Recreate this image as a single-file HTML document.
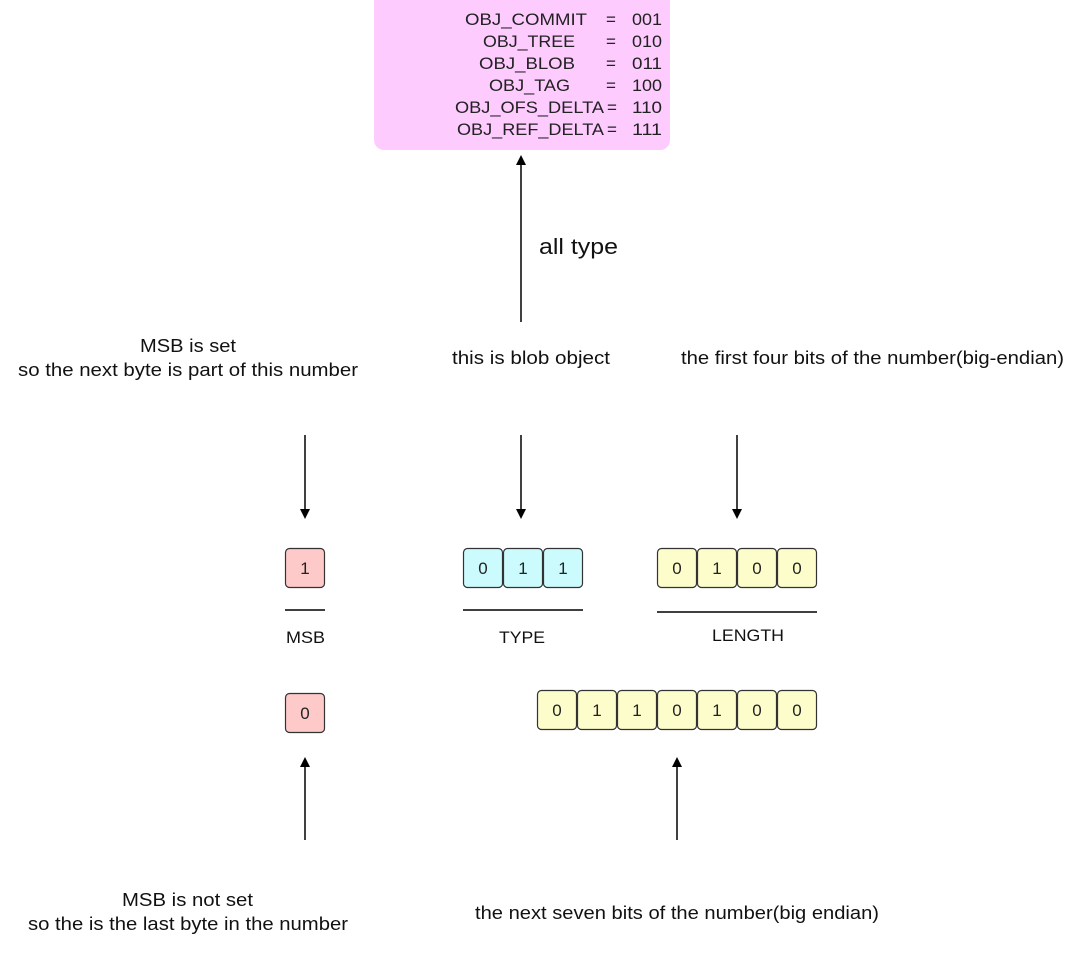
<!DOCTYPE html>
<html><head><meta charset="utf-8"><style>
html,body{margin:0;padding:0;background:#fff}
svg{display:block;font-family:"Liberation Sans",Helvetica,Arial,sans-serif}
</style></head><body>
<svg width="1080" height="962" viewBox="0 0 1080 962" xmlns="http://www.w3.org/2000/svg">
<defs><marker id="a" markerWidth="10" markerHeight="10" refX="5" refY="5" orient="auto" markerUnits="userSpaceOnUse"><path d="M0,0 L10,5 L0,10 z" fill="#000"/></marker></defs>
<rect x="374" y="-10" width="296" height="160" rx="10" fill="#fdcbfd"/>
<g font-size="17" fill="#222" lengthAdjust="spacingAndGlyphs">
<text x="465" y="25" textLength="122" lengthAdjust="spacingAndGlyphs">OBJ_COMMIT</text><text x="606" y="25">=</text><text x="632" y="25" textLength="30" lengthAdjust="spacingAndGlyphs">001</text>
<text x="483" y="47" textLength="92" lengthAdjust="spacingAndGlyphs">OBJ_TREE</text><text x="606" y="47">=</text><text x="632" y="47" textLength="30" lengthAdjust="spacingAndGlyphs">010</text>
<text x="479" y="69" textLength="96" lengthAdjust="spacingAndGlyphs">OBJ_BLOB</text><text x="606" y="69">=</text><text x="632" y="69" textLength="30" lengthAdjust="spacingAndGlyphs">011</text>
<text x="489" y="91" textLength="81" lengthAdjust="spacingAndGlyphs">OBJ_TAG</text><text x="606" y="91">=</text><text x="632" y="91" textLength="30" lengthAdjust="spacingAndGlyphs">100</text>
<text x="455" y="113" textLength="149" lengthAdjust="spacingAndGlyphs">OBJ_OFS_DELTA</text><text x="607" y="113">=</text><text x="632" y="113" textLength="30" lengthAdjust="spacingAndGlyphs">110</text>
<text x="457" y="135" textLength="147" lengthAdjust="spacingAndGlyphs">OBJ_REF_DELTA</text><text x="607" y="135">=</text><text x="632" y="135" textLength="30" lengthAdjust="spacingAndGlyphs">111</text>
</g>
<g stroke="#000" stroke-width="1.5">
<line x1="521" y1="322" x2="521" y2="160" marker-end="url(#a)"/>
<line x1="305" y1="435" x2="305" y2="514" marker-end="url(#a)"/>
<line x1="521" y1="435" x2="521" y2="514" marker-end="url(#a)"/>
<line x1="737" y1="435" x2="737" y2="514" marker-end="url(#a)"/>
<line x1="305" y1="840" x2="305" y2="762" marker-end="url(#a)"/>
<line x1="677" y1="840" x2="677" y2="762" marker-end="url(#a)"/>
<line x1="285" y1="610" x2="325" y2="610"/>
<line x1="463" y1="610" x2="583" y2="610"/>
<line x1="657" y1="612" x2="817" y2="612"/>
</g>
<g fill="#111" font-size="18">
<text x="539" y="254" font-size="22" textLength="79" lengthAdjust="spacingAndGlyphs">all type</text>
<text x="140" y="352" textLength="96" lengthAdjust="spacingAndGlyphs">MSB is set</text>
<text x="18" y="376" textLength="340" lengthAdjust="spacingAndGlyphs">so the next byte is part of this number</text>
<text x="452" y="364" textLength="158" lengthAdjust="spacingAndGlyphs">this is blob object</text>
<text x="681" y="364" textLength="383" lengthAdjust="spacingAndGlyphs">the first four bits of the number(big-endian)</text>
<text x="122" y="906" textLength="131" lengthAdjust="spacingAndGlyphs">MSB is not set</text>
<text x="28" y="930" textLength="320" lengthAdjust="spacingAndGlyphs">so the is the last byte in the number</text>
<text x="475" y="919" textLength="404" lengthAdjust="spacingAndGlyphs">the next seven bits of the number(big endian)</text>
<g font-size="17">
<text x="286" y="643" textLength="39" lengthAdjust="spacingAndGlyphs">MSB</text>
<text x="499" y="643" textLength="46" lengthAdjust="spacingAndGlyphs">TYPE</text>
<text x="712" y="641" textLength="72" lengthAdjust="spacingAndGlyphs">LENGTH</text>
</g>
</g>
<g stroke="#333" stroke-width="1.2" font-size="17" text-anchor="middle">
<rect x="285.5" y="548.5" width="39" height="39" rx="4" fill="#fdc9c9"/>
<text x="305" y="574" stroke="none" fill="#222">1</text>
<rect x="285.5" y="693.5" width="39" height="39" rx="4" fill="#fdc9c9"/>
<text x="305" y="719" stroke="none" fill="#222">0</text>
<rect x="463.5" y="548.5" width="39" height="39" rx="4" fill="#cbfbfd"/><text x="483" y="574" stroke="none" fill="#222">0</text>
<rect x="503.5" y="548.5" width="39" height="39" rx="4" fill="#cbfbfd"/><text x="523" y="574" stroke="none" fill="#222">1</text>
<rect x="543.5" y="548.5" width="39" height="39" rx="4" fill="#cbfbfd"/><text x="563" y="574" stroke="none" fill="#222">1</text>
<rect x="657.5" y="548.5" width="39" height="39" rx="4" fill="#fdfdcb"/><text x="677" y="574" stroke="none" fill="#222">0</text>
<rect x="697.5" y="548.5" width="39" height="39" rx="4" fill="#fdfdcb"/><text x="717" y="574" stroke="none" fill="#222">1</text>
<rect x="737.5" y="548.5" width="39" height="39" rx="4" fill="#fdfdcb"/><text x="757" y="574" stroke="none" fill="#222">0</text>
<rect x="777.5" y="548.5" width="39" height="39" rx="4" fill="#fdfdcb"/><text x="797" y="574" stroke="none" fill="#222">0</text>
<rect x="537.5" y="690.5" width="39" height="39" rx="4" fill="#fdfdcb"/><text x="557" y="716" stroke="none" fill="#222">0</text>
<rect x="577.5" y="690.5" width="39" height="39" rx="4" fill="#fdfdcb"/><text x="597" y="716" stroke="none" fill="#222">1</text>
<rect x="617.5" y="690.5" width="39" height="39" rx="4" fill="#fdfdcb"/><text x="637" y="716" stroke="none" fill="#222">1</text>
<rect x="657.5" y="690.5" width="39" height="39" rx="4" fill="#fdfdcb"/><text x="677" y="716" stroke="none" fill="#222">0</text>
<rect x="697.5" y="690.5" width="39" height="39" rx="4" fill="#fdfdcb"/><text x="717" y="716" stroke="none" fill="#222">1</text>
<rect x="737.5" y="690.5" width="39" height="39" rx="4" fill="#fdfdcb"/><text x="757" y="716" stroke="none" fill="#222">0</text>
<rect x="777.5" y="690.5" width="39" height="39" rx="4" fill="#fdfdcb"/><text x="797" y="716" stroke="none" fill="#222">0</text>
</g>
</svg>
</body></html>
